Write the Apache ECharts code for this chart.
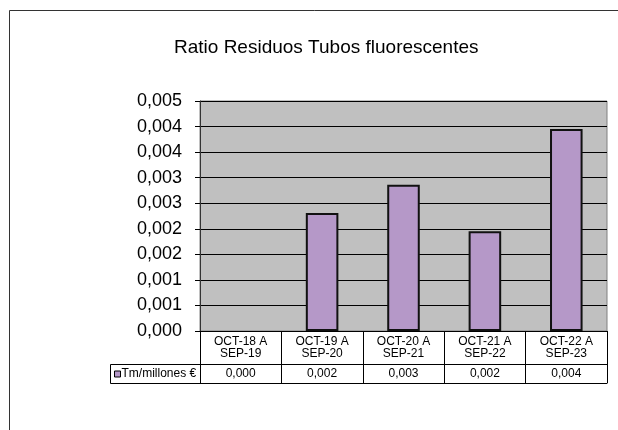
<!DOCTYPE html>
<html>
<head>
<meta charset="utf-8">
<script src="https://cdn.jsdelivr.net/npm/echarts@6/dist/echarts.min.js"></script>
<style>
html,body{margin:0;padding:0;background:#fff;}
#c{width:618px;height:430px;}
</style>
</head>
<body>
<div id="c"></div>
<script>
var title = 'Ratio Residuos Tubos fluorescentes';
var seriesName = 'Tm/millones €';
var categories = ['OCT-18 A\nSEP-19', 'OCT-19 A\nSEP-20', 'OCT-20 A\nSEP-21', 'OCT-21 A\nSEP-22', 'OCT-22 A\nSEP-23'];
var values = [0, 0.00231, 0.00286, 0.00195, 0.00395];
var yMin = 0, yMax = 0.0045, yStep = 0.0005;

function fmt(v) {
  var r = Math.round(v * 1000 + 1e-6) / 1000;
  return r.toFixed(3).replace('.', ',');
}

var FONT = 'Liberation Sans, Arial, sans-serif';
var chart = echarts.init(document.getElementById('c'));
chart.setOption({
  backgroundColor: '#ffffff',
  animation: false,
  textStyle: { fontFamily: FONT },
  title: {
    text: title,
    left: 169, top: 33,
    textStyle: { fontFamily: FONT, fontSize: 19, fontWeight: 'normal', color: '#000' }
  },
  legend: {
    left: 114, top: 368, padding: 0,
    icon: 'rect', itemWidth: 6, itemHeight: 6,
    data: [seriesName],
    textStyle: { fontFamily: FONT, fontSize: 12, color: '#000', padding: [0, 0, 0, -4] },
    itemStyle: { borderColor: '#000', borderWidth: 1 }
  },
  grid: {
    left: 200, right: 11, top: 101, bottom: 99,
    show: true, backgroundColor: '#c0c0c0', borderColor: '#808080', borderWidth: 1
  },
  xAxis: [
    {
      type: 'category', data: categories, position: 'bottom',
      axisLine: { show: true, lineStyle: { color: '#000', width: 1 } },
      axisTick: { show: true, length: 33, lineStyle: { color: '#000' } },
      axisLabel: { fontFamily: FONT, fontSize: 12, color: '#000', lineHeight: 12, margin: 5, interval: 0 },
      splitLine: { show: false }
    },
    {
      type: 'category', data: values.map(fmt), position: 'bottom', offset: 33,
      axisLine: { show: true, lineStyle: { color: '#000', width: 1 } },
      axisTick: { show: true, length: 19, lineStyle: { color: '#000' } },
      axisLabel: { fontFamily: FONT, fontSize: 12, color: '#000', margin: 4, interval: 0 },
      splitLine: { show: false }
    },
    {
      type: 'category', data: categories, position: 'bottom', offset: 52,
      axisLine: { show: true, lineStyle: { color: '#000', width: 1 } },
      axisTick: { show: false },
      axisLabel: { show: false },
      splitLine: { show: false }
    }
  ],
  yAxis: {
    type: 'value', min: yMin, max: yMax, interval: yStep,
    axisLine: { show: true, lineStyle: { color: '#333', width: 1 } },
    axisTick: { show: true, length: 5, lineStyle: { color: '#000' } },
    axisLabel: { fontFamily: FONT, fontSize: 18, color: '#000', margin: 18, formatter: fmt },
    splitLine: { show: true, lineStyle: { color: '#000', width: 1 } }
  },
  series: [{
    name: seriesName, type: 'bar', xAxisIndex: 0,
    data: values.map(function (v) {
      return v === 0 ? { value: v, itemStyle: { borderWidth: 0 } } : v;
    }),
    barWidth: '40%',
    itemStyle: { color: '#b598c8', borderColor: '#111', borderWidth: 2 }
  }],
  graphic: [
    { type: 'rect', shape: { x: 9.5, y: 10.5, width: 640, height: 440 },
      style: { fill: 'none', stroke: '#333', lineWidth: 1 }, z: 0 },
    { type: 'line', shape: { x1: 110.5, y1: 364.5, x2: 200, y2: 364.5 }, style: { stroke: '#000', lineWidth: 1 } },
    { type: 'line', shape: { x1: 110.5, y1: 383.5, x2: 200, y2: 383.5 }, style: { stroke: '#000', lineWidth: 1 } },
    { type: 'line', shape: { x1: 110.5, y1: 364.5, x2: 110.5, y2: 383.5 }, style: { stroke: '#000', lineWidth: 1 } }
  ]
});
</script>
</body>
</html>
